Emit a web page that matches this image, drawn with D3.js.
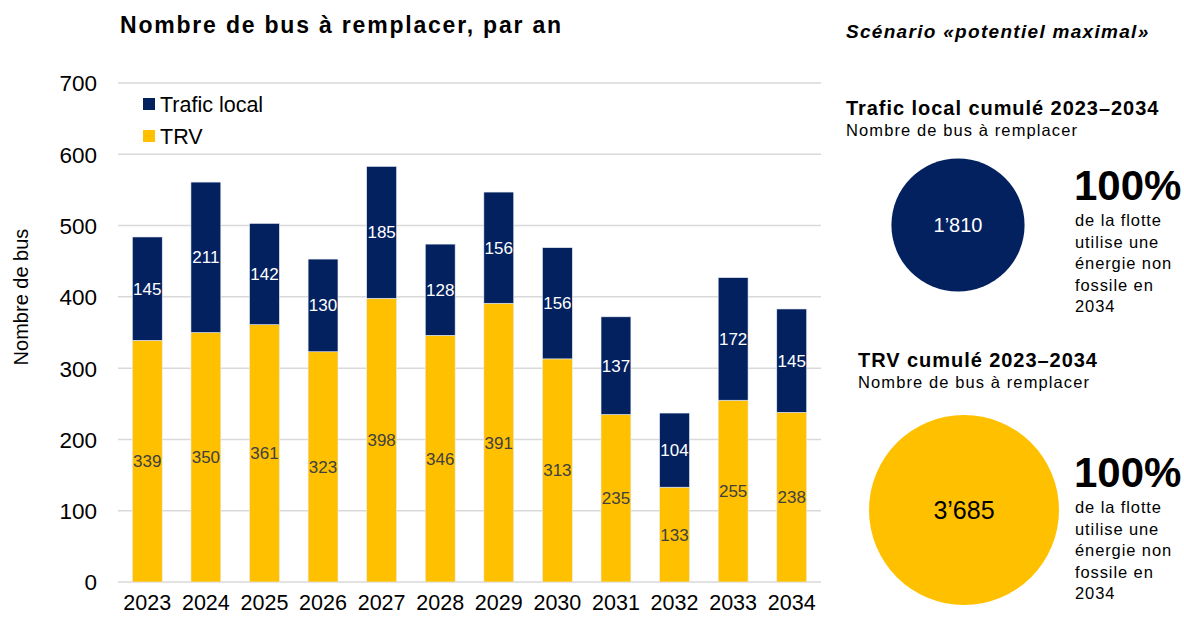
<!DOCTYPE html>
<html>
<head>
<meta charset="utf-8">
<script src="https://cdn.jsdelivr.net/npm/d3@7"></script>
<style>
  body { margin: 0; background: #fff; }
  svg { font-family: "Liberation Sans", Arial, sans-serif; }
</style>
</head>
<body>
<div id="chart"></div>
<script>
const svgWidth = 1184;
const svgHeight = 617;

// Data
const years = ['2023', '2024', '2025', '2026', '2027', '2028', '2029', '2030', '2031', '2032', '2033', '2034'];
const trv = [339, 350, 361, 323, 398, 346, 391, 313, 235, 133, 255, 238];
const traficLocal = [145, 211, 142, 130, 185, 128, 156, 156, 137, 104, 172, 145];
const yTicks = [0, 100, 200, 300, 400, 500, 600, 700];
const seriesNames = ['Trafic local', 'TRV'];
const cumulNames = ['Trafic local', 'TRV'];
const cumulTotals = [1810, 3685];
const cumulLabels = ['1’810', '3’685'];

const navy = '#03215f';
const yellow = '#ffc000';

// plot area
const plot = { left: 118, right: 821, top: 83, bottom: 582 };

const svg = d3.select('#chart').append('svg').attr('width', svgWidth).attr('height', svgHeight);

const rows = years.map((y, i) => ({ year: y, trv: trv[i], local: traficLocal[i] }));
const stacked = d3.stack().keys(['trv', 'local'])(rows);

const xScale = d3.scaleBand()
  .domain(years)
  .range([plot.left, plot.right])
  .paddingInner(0.49)
  .paddingOuter(0.245);

const yScale = d3.scaleLinear()
  .domain([0, 700])
  .range([plot.bottom, plot.top]);

// gridlines
svg.append('g')
  .selectAll('line')
  .data(yTicks)
  .enter()
  .append('line')
  .attr('x1', plot.left)
  .attr('x2', plot.right)
  .attr('y1', d => yScale(d))
  .attr('y2', d => yScale(d))
  .attr('stroke', '#d9d9d9')
  .attr('stroke-width', 1.5);

// y axis labels
const yAxis = svg.append('g')
  .attr('transform', `translate(${plot.left - 21},0)`)
  .call(d3.axisLeft(yScale).tickValues(yTicks).tickSize(0).tickPadding(0));
yAxis.select('.domain').remove();
yAxis.selectAll('text')
  .attr('font-family', '"Liberation Sans", Arial, sans-serif')
  .attr('font-size', 22.5)
  .attr('fill', '#000')
  .attr('dy', '0.35em');

// x axis labels
const xAxis = svg.append('g')
  .attr('transform', `translate(0,${plot.bottom + 12})`)
  .call(d3.axisBottom(xScale).tickSize(0).tickPadding(0));
xAxis.select('.domain').remove();
xAxis.selectAll('text')
  .attr('font-family', '"Liberation Sans", Arial, sans-serif')
  .attr('font-size', 21.5)
  .attr('fill', '#000')
  .attr('dy', '0.75em');

// bars
const colors = { trv: yellow, local: navy };
const labelColors = { trv: '#404040', local: '#ffffff' };

const layers = svg.append('g')
  .selectAll('g')
  .data(stacked)
  .enter()
  .append('g');

layers.selectAll('rect')
  .data(s => s.map(d => ({ key: s.key, d })))
  .enter()
  .append('rect')
  .attr('x', p => xScale(p.d.data.year))
  .attr('y', p => yScale(p.d[1]))
  .attr('width', xScale.bandwidth())
  .attr('height', p => yScale(p.d[0]) - yScale(p.d[1]))
  .attr('fill', p => colors[p.key])
  .attr('stroke', '#e8ecf4')
  .attr('stroke-width', 0.6);

layers.selectAll('text')
  .data(s => s.map(d => ({ key: s.key, d })))
  .enter()
  .append('text')
  .attr('x', p => xScale(p.d.data.year) + xScale.bandwidth() / 2)
  .attr('y', p => yScale((p.d[0] + p.d[1]) / 2))
  .attr('dy', '0.35em')
  .attr('text-anchor', 'middle')
  .attr('font-size', 17)
  .attr('fill', p => labelColors[p.key])
  .text(p => p.d[1] - p.d[0]);

// legend
const legend = svg.append('g').attr('transform', 'translate(143,104)');
seriesNames.forEach((name, i) => {
  const row = legend.append('g').attr('transform', `translate(0,${i * 32})`);
  row.append('rect')
    .attr('x', 0).attr('y', -6)
    .attr('width', 12).attr('height', 12)
    .attr('fill', i === 0 ? navy : yellow);
  row.append('text')
    .attr('x', 17).attr('y', 0)
    .attr('dy', '0.35em')
    .attr('font-size', 21.5)
    .text(name);
});

// y axis title
svg.append('text')
  .attr('transform', 'rotate(-90)')
  .attr('x', -297)
  .attr('y', 28)
  .attr('text-anchor', 'middle')
  .attr('font-size', 20)
  .text('Nombre de bus');

// chart title
svg.append('text')
  .attr('x', 120)
  .attr('y', 33)
  .attr('font-size', 23)
  .attr('font-weight', 'bold')
  .attr('letter-spacing', 1.8)
  .text('Nombre de bus à remplacer, par an');

// right panel
svg.append('text')
  .attr('x', 846)
  .attr('y', 38)
  .attr('font-size', 19)
  .attr('font-weight', 'bold')
  .attr('font-style', 'italic')
  .attr('letter-spacing', 1.3)
  .text('Scénario «potentiel maximal»');

const rScale = d3.scaleSqrt().domain([0, d3.max(cumulTotals)]).range([0, 95]);

const blocks = [
  { titleX: 846, titleY: 115, cx: 958, cy: 225, pctY: 200, lineY: 226, fill: navy, txt: '#ffffff', fs: 20 },
  { titleX: 858, titleY: 367, cx: 964, cy: 510, pctY: 487, lineY: 513, fill: yellow, txt: '#000000', fs: 25 }
];
const noteLines = ['de la flotte', 'utilise une', 'énergie non', 'fossile en', '2034'];

blocks.forEach((b, i) => {
  const g = svg.append('g');
  g.append('text')
    .attr('x', b.titleX).attr('y', b.titleY)
    .attr('font-size', 20)
    .attr('font-weight', 'bold')
    .attr('letter-spacing', 0.95)
    .text(`${cumulNames[i]} cumulé 2023–2034`);
  g.append('text')
    .attr('x', b.titleX).attr('y', b.titleY + 21)
    .attr('font-size', 16.5)
    .attr('letter-spacing', 1.1)
    .text('Nombre de bus à remplacer');
  g.append('circle')
    .attr('cx', b.cx).attr('cy', b.cy)
    .attr('r', rScale(cumulTotals[i]))
    .attr('fill', b.fill);
  g.append('text')
    .attr('x', b.cx).attr('y', b.cy)
    .attr('dy', '0.35em')
    .attr('text-anchor', 'middle')
    .attr('font-size', b.fs)
    .attr('fill', b.txt)
    .text(cumulLabels[i]);
  g.append('text')
    .attr('x', 1074).attr('y', b.pctY)
    .attr('font-size', 42)
    .attr('font-weight', 'bold')
    .text('100%');
  noteLines.forEach((t, j) => {
    g.append('text')
      .attr('x', 1075).attr('y', b.lineY + j * 21.5)
      .attr('font-size', 16.5)
      .attr('letter-spacing', 0.9)
      .text(t);
  });
});
</script>
</body>
</html>
